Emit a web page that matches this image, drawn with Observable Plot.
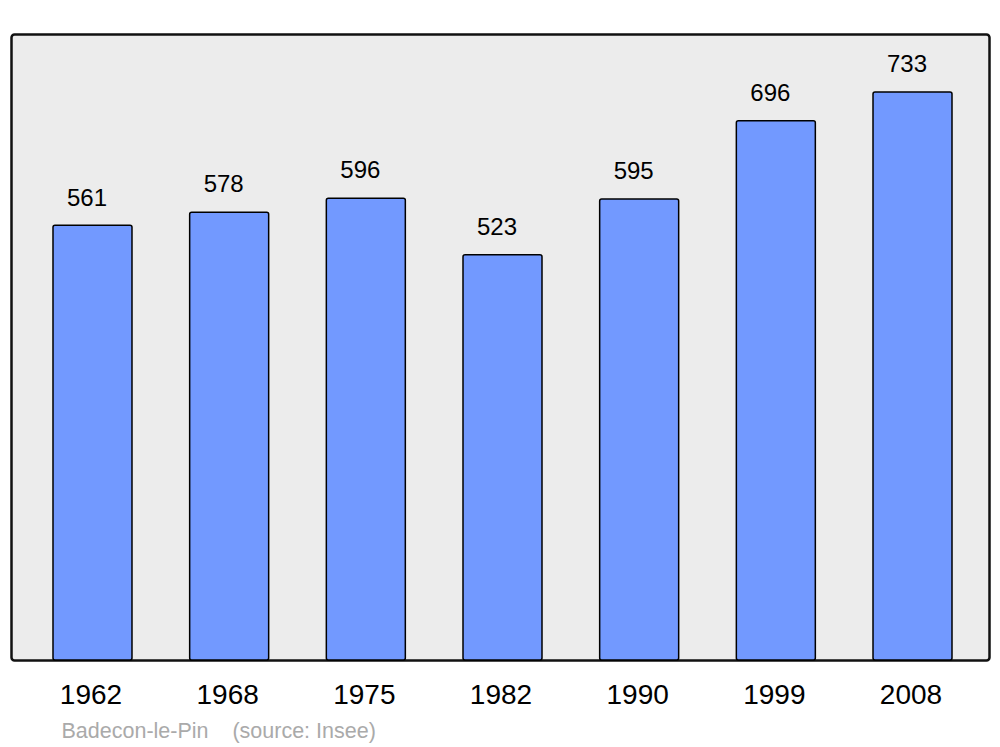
<!DOCTYPE html>
<html>
<head>
<meta charset="utf-8">
<script src="https://cdn.jsdelivr.net/npm/d3@7"></script>
<script src="https://cdn.jsdelivr.net/npm/@observablehq/plot@0.6"></script>
<style>
  html, body { margin: 0; padding: 0; background: #fff; }
  svg { display: block; font-family: "Liberation Sans", Arial, sans-serif; }
</style>
</head>
<body>
<div id="chart"></div>
<script>
const years = ["1962", "1968", "1975", "1982", "1990", "1999", "2008"];
const population = [561, 578, 596, 523, 595, 696, 733];
const captionText = "Badecon-le-Pin\u00a0\u00a0\u00a0\u00a0(source: Insee)";

const data = years.map((y, i) => ({year: y, pop: population[i]}));

const chart = Plot.plot({
  width: 1000,
  height: 747,
  marginLeft: 11,
  marginRight: 11,
  marginTop: 34,
  marginBottom: 87,
  style: {fontFamily: "'Liberation Sans', Arial, sans-serif", background: "#fff"},
  x: {domain: years, range: [13.5, 991.5], paddingInner: 0.422, paddingOuter: 0.289, round: false, axis: null},
  y: {domain: [0, 808], axis: null},
  marks: [
    Plot.frame({fill: "#ececec", stroke: "#111", strokeWidth: 2.5, rx: 3}),
    Plot.barY(data, {x: "year", y: "pop", fill: "#7299ff", stroke: "#000", strokeWidth: 1.5, rx: 2}),
    Plot.text(data, {x: "year", y: "pop", text: d => String(d.pop), dy: -28, dx: -6, fontSize: 24, fill: "#000"}),
    Plot.text(years, {x: d => d, text: d => d, frameAnchor: "bottom", dy: 43, dx: -2, fontSize: 28, fill: "#000"}),
    Plot.text([captionText], {frameAnchor: "bottom-left", text: d => d, textAnchor: "start", dx: 50, dy: 77, fontSize: 21.5, fill: "#aaa"})
  ]
});
document.getElementById("chart").appendChild(chart);
</script>
</body>
</html>
